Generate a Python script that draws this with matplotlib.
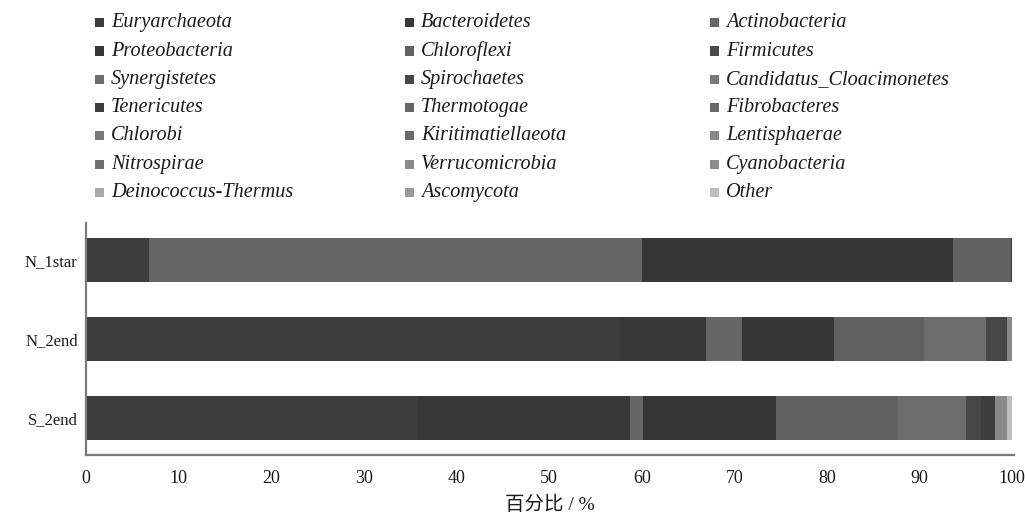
import matplotlib
matplotlib.use("Agg")
import matplotlib.pyplot as plt
from matplotlib.patches import Rectangle

# Samples (top to bottom)
samples = ["N_1star", "N_2end", "S_2end"]

# Phyla in stacking / legend order
phyla = [
    "Euryarchaeota", "Bacteroidetes", "Actinobacteria",
    "Proteobacteria", "Chloroflexi", "Firmicutes",
    "Synergistetes", "Spirochaetes", "Candidatus_Cloacimonetes",
    "Tenericutes", "Thermotogae", "Fibrobacteres",
    "Chlorobi", "Kiritimatiellaeota", "Lentisphaerae",
    "Nitrospirae", "Verrucomicrobia", "Cyanobacteria",
    "Deinococcus-Thermus", "Ascomycota", "Other",
]

# Relative abundance (%) per phylum, one value per sample
abundance = {
    "Euryarchaeota":            [6.8, 57.5, 35.8],
    "Bacteroidetes":            [0.0, 9.4, 22.9],
    "Actinobacteria":           [53.2, 3.9, 1.4],
    "Proteobacteria":           [33.6, 10.0, 14.4],
    "Chloroflexi":              [6.3, 9.7, 13.2],
    "Firmicutes":               [0.0, 0.0, 0.0],
    "Synergistetes":            [0.0, 6.7, 7.3],
    "Spirochaetes":             [0.0, 2.2, 1.6],
    "Candidatus_Cloacimonetes": [0.0, 0.0, 0.0],
    "Tenericutes":              [0.1, 0.0, 1.6],
    "Thermotogae":              [0.0, 0.0, 0.0],
    "Fibrobacteres":            [0.0, 0.0, 0.0],
    "Chlorobi":                 [0.0, 0.0, 0.0],
    "Kiritimatiellaeota":       [0.0, 0.0, 0.0],
    "Lentisphaerae":            [0.0, 0.6, 0.0],
    "Nitrospirae":              [0.0, 0.0, 0.0],
    "Verrucomicrobia":          [0.0, 0.0, 1.2],
    "Cyanobacteria":            [0.0, 0.0, 0.0],
    "Deinococcus-Thermus":      [0.0, 0.0, 0.0],
    "Ascomycota":               [0.0, 0.0, 0.0],
    "Other":                    [0.0, 0.0, 0.6],
}

colors = {
    "Euryarchaeota": "#3d3d3d", "Bacteroidetes": "#383838", "Actinobacteria": "#666666",
    "Proteobacteria": "#363636", "Chloroflexi": "#616161", "Firmicutes": "#4a4a4a",
    "Synergistetes": "#6c6c6c", "Spirochaetes": "#474747", "Candidatus_Cloacimonetes": "#777777",
    "Tenericutes": "#3e3e3e", "Thermotogae": "#666666", "Fibrobacteres": "#686868",
    "Chlorobi": "#787878", "Kiritimatiellaeota": "#6a6a6a", "Lentisphaerae": "#888888",
    "Nitrospirae": "#6e6e6e", "Verrucomicrobia": "#8a8a8a", "Cyanobacteria": "#8c8c8c",
    "Deinococcus-Thermus": "#a8a8a8", "Ascomycota": "#9a9a9a", "Other": "#bdbdbd",
}

xticks = [0, 10, 20, 30, 40, 50, 60, 70, 80, 90, 100]
xlabel = "百分比 / %"

W, H = 1025, 515
fig = plt.figure(figsize=(W / 100, H / 100), dpi=100)
fig.patch.set_facecolor("white")

ax = fig.add_axes([86 / W, 60 / H, (1014 - 86) / W, (292 - 60) / H])

ypos = list(range(len(samples)))
left = [0.0] * len(samples)
for p in phyla:
    vals = abundance[p]
    ax.barh(ypos, vals, left=left, height=0.56, color=colors[p], linewidth=0)
    left = [l + v for l, v in zip(left, vals)]

ax.set_ylim(len(samples) - 1 + 0.47, -0.47)
ax.set_xlim(0, 100.2)
ax.set_yticks(ypos)
ax.set_yticklabels(samples, fontfamily="Liberation Serif", fontsize=12)
ax.set_xticks(xticks)
ax.set_xticklabels([str(t) for t in xticks], fontfamily="Liberation Serif", fontsize=13)
ax.tick_params(axis="both", length=0, colors="#1a1a1a")
ax.tick_params(axis="x", pad=11)
ax.tick_params(axis="y", pad=6)
for s in ["top", "right"]:
    ax.spines[s].set_visible(False)
for s in ["left", "bottom"]:
    ax.spines[s].set_color("#7a7a7a")
    ax.spines[s].set_linewidth(1.6)
ax.set_xlabel(xlabel, fontfamily=["Liberation Serif", "Noto Sans CJK SC"], fontsize=14,
              labelpad=6, color="#1a1a1a")

# Legend: three columns, filled row by row
col_x = [95, 405, 710]
row_y0, row_dy = 22.7, 28.3
sq = 9
for i, p in enumerate(phyla):
    r, c = divmod(i, 3)
    x = col_x[c]
    y = row_y0 + r * row_dy
    fig.add_artist(Rectangle((x / W, 1 - (y + sq / 2) / H), sq / W, sq / H,
                             transform=fig.transFigure, facecolor=colors[p], edgecolor="none"))
    fig.text((x + 16) / W, 1 - y / H, p, fontfamily="Liberation Serif", fontstyle="italic",
             fontsize=14.6, va="center", ha="left", color="#1a1a1a")

fig.savefig("out.png", dpi=100, facecolor="white")
